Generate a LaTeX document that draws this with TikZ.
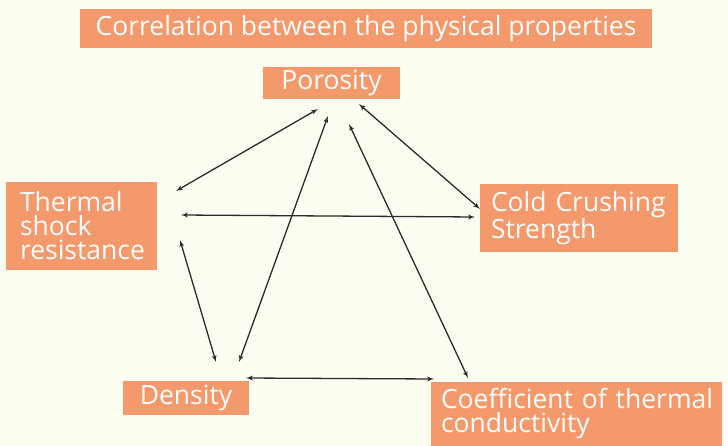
\documentclass[tikz,border=0pt]{standalone}
\usepackage{fontspec}
\newfontfamily\lbl{Open Sans}
\usetikzlibrary{arrows}
\definecolor{boxc}{HTML}{F3996C}
\definecolor{paper}{HTML}{FEFDF1}
\definecolor{ink}{HTML}{2B2B2B}

\begin{document}
\begin{tikzpicture}[x=1pt,y=-1pt,>=latex']
    \tikzstyle{lab}=[fill=boxc, text=white, inner sep=0pt, font=\lbl\fontsize{26.5}{24}\selectfont]
    \tikzstyle{link}=[<->, draw=ink, line width=1.3pt]
    \fill[paper] (0,0) rectangle (728,446);
    \useasboundingbox (0,0) rectangle (728,446);
    % boxes
    \node[lab, minimum width=572pt, minimum height=39pt] (title) at (366,29) {Correlation between the physical properties};
    \node[lab, minimum width=137pt, minimum height=32pt] (por) at (331.5,83) {Porosity};
    \node[lab, minimum height=88pt, inner xsep=14pt, text width=123pt, align=left] (tsr) at (81.5,226) {Thermal\\shock\\resistance};
    \node[lab, minimum height=68pt, inner xsep=11pt, text width=176pt, align=left] (ccs) at (579,218) {Cold Crushing\\Strength};
    \node[lab, minimum width=126pt, minimum height=34pt] (den) at (186,398) {Density};
    \node[lab, minimum height=64pt, inner xsep=10pt, text width=271pt, align=left] (cct) at (576.5,414) {\mbox{Coefficient of thermal}\\conductivity};
    % arrow ends
    \coordinate (por1) at (318,109);
    \coordinate (por2) at (328,116);
    \coordinate (por3) at (349,124);
    \coordinate (por4) at (359,104);
    \coordinate (tsr1) at (176,191);
    \coordinate (tsr2) at (181,215);
    \coordinate (tsr3) at (180,240);
    \coordinate (ccs1) at (480,209);
    \coordinate (ccs2) at (475,217);
    \coordinate (den1) at (216,362);
    \coordinate (den2) at (239,362);
    \coordinate (den3) at (246,378);
    \coordinate (cct1) at (468,378);
    \coordinate (cct2) at (434,379);
    % links
    \draw[link] (por1) -- (tsr1);
    \draw[link] (tsr2) -- (ccs2);
    \draw[link] (tsr3) -- (den1);
    \draw[link] (den2) -- (por2);
    \draw[link] (por3) -- (cct1);
    \draw[link] (por4) -- (ccs1);
    \draw[link] (den3) -- (cct2);
\end{tikzpicture}
\end{document}
